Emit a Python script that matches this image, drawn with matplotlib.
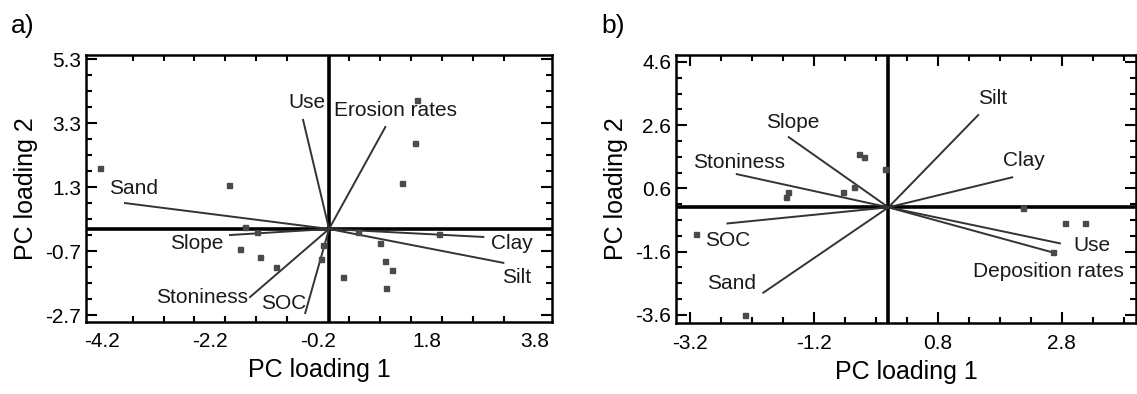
import numpy as np
import matplotlib
matplotlib.use("Agg")
import matplotlib.pyplot as plt

plt.rcParams['font.family'] = ['Liberation Sans', 'DejaVu Sans']

# ---------------- panel a : loadings (arrow ends) and scores ----------------
a_vars = ["Sand", "Use", "Erosion rates", "Slope", "Stoniness", "SOC", "Clay", "Silt"]
a_vec_x = [-3.77, -0.48, 1.04, -1.83, -1.46, -0.44, 2.85, 3.22]
a_vec_y = [0.81, 3.41, 3.19, -0.19, -2.13, -2.63, -0.25, -1.06]
a_lab_x = [-3.62, -0.41, 1.22, -2.44, -2.35, -0.83, 3.38, 3.47]
a_lab_y = [1.28, 3.97, 3.72, -0.44, -2.13, -2.34, -0.44, -1.53]
a_pts_x = [-4.23, -1.85, 1.63, 1.59, 1.35, -1.55, -1.33, -1.65, -1.28, -0.98,
           -0.11, -0.15, 0.26, 0.94, 1.04, 1.16, 1.05, 2.03, 0.54]
a_pts_y = [1.91, 1.38, 4.03, 2.69, 1.44, 0.06, -0.09, -0.63, -0.88, -1.19,
           -0.50, -0.94, -1.50, -0.44, -1.00, -1.28, -1.84, -0.16, -0.09]
a_xticks = [-4.2, -2.2, -0.2, 1.8, 3.8]
a_xticklabels = ["-4.2", "-2.2", "-0.2", "1.8", "3.8"]
a_yticks = [5.3, 3.3, 1.3, -0.7, -2.7]
a_yticklabels = ["5.3", "3.3", "1.3", "-0.7", "-2.7"]

# ---------------- panel b ----------------
b_vars = ["Silt", "Clay", "Slope", "Stoniness", "SOC", "Sand", "Use", "Deposition rates"]
b_vec_x = [1.45, 2.00, -1.61, -2.45, -2.60, -2.02, 2.77, 2.66]
b_vec_y = [2.92, 0.95, 2.22, 1.05, -0.51, -2.70, -1.14, -1.43]
b_lab_x = [1.68, 2.18, -1.55, -2.42, -2.60, -2.53, 3.29, 2.58]
b_lab_y = [3.43, 1.49, 2.67, 1.43, -1.05, -2.41, -1.21, -2.03]
b_pts_x = [-0.47, -0.40, -0.06, -1.63, -1.65, -0.73, -0.56, -3.10, -2.32,
           2.85, 3.18, 2.65, 2.18]
b_pts_y = [1.68, 1.59, 1.21, 0.48, 0.32, 0.48, 0.63, -0.83, -3.40,
           -0.48, -0.51, -1.40, -0.03]
b_xticks = [-3.2, -1.2, 0.8, 2.8]
b_xticklabels = ["-3.2", "-1.2", "0.8", "2.8"]
b_yticks = [4.6, 2.6, 0.6, -1.4, -3.4]
b_yticklabels = ["4.6", "2.6", "0.6", "-1.6", "-3.6"]

fig = plt.figure(figsize=(11.37, 3.94), dpi=100)
ax_a = fig.add_axes([0.0756, 0.1827, 0.410, 0.6777])
ax_b = fig.add_axes([0.5946, 0.1802, 0.4046, 0.6802])


def draw_panel(ax, vx, vy, names, lx, ly, px, py):
    ax.axhline(0, color='black', lw=2.6, zorder=2)
    ax.axvline(0, color='black', lw=2.6, zorder=2)
    for x, y in zip(vx, vy):
        ax.plot([0, x], [0, y], color='#333333', lw=1.4, zorder=3)
    ax.plot(px, py, ls='none', marker='s', ms=3.6, color='#4a4a4a', zorder=4)
    for n, x, y in zip(names, lx, ly):
        ax.text(x, y, n, ha='center', va='center', color='#1a1a1a', fontsize=15)
    for s in ax.spines.values():
        s.set_linewidth(1.8)
    ax.tick_params(which='both', direction='in', top=True, right=True,
                   width=1.5, labelsize=15, colors='black')
    ax.tick_params(which='major', length=8)
    ax.tick_params(which='minor', length=4.5)
    ax.set_xlabel("PC loading 1", fontsize=18, labelpad=5)
    ax.set_ylabel("PC loading 2", fontsize=18, labelpad=5)


draw_panel(ax_a, a_vec_x, a_vec_y, a_vars, a_lab_x, a_lab_y, a_pts_x, a_pts_y)
ax_a.set_xlim(-4.49, 4.12)
ax_a.set_ylim(-2.91, 5.44)
ax_a.set_xticks(a_xticks)
ax_a.set_xticklabels(a_xticklabels)
ax_a.set_xticks(np.linspace(-4.2, 3.8, 15), minor=True)
ax_a.tick_params(axis='x', which='major', length=0, pad=7)
ax_a.set_yticks(a_yticks)
ax_a.set_yticklabels(a_yticklabels)
ax_a.set_yticks(np.arange(-2.7, 5.31, 0.5), minor=True)

draw_panel(ax_b, b_vec_x, b_vec_y, b_vars, b_lab_x, b_lab_y, b_pts_x, b_pts_y)
ax_b.set_xlim(-3.43, 4.0)
ax_b.set_ylim(-3.66, 4.82)
ax_b.set_xticks(b_xticks)
ax_b.set_xticklabels(b_xticklabels)
ax_b.set_xticks(np.arange(-3.2, 3.91, 0.5), minor=True)
ax_b.tick_params(axis='x', which='major', pad=8)
ax_b.set_yticks(b_yticks)
ax_b.set_yticklabels(b_yticklabels)
ax_b.set_yticks(np.arange(-3.4, 4.61, 0.5), minor=True)

fig.text(0.010, 0.915, "a)", fontsize=19)
fig.text(0.529, 0.915, "b)", fontsize=19)

fig.savefig("out.png", dpi=100)
